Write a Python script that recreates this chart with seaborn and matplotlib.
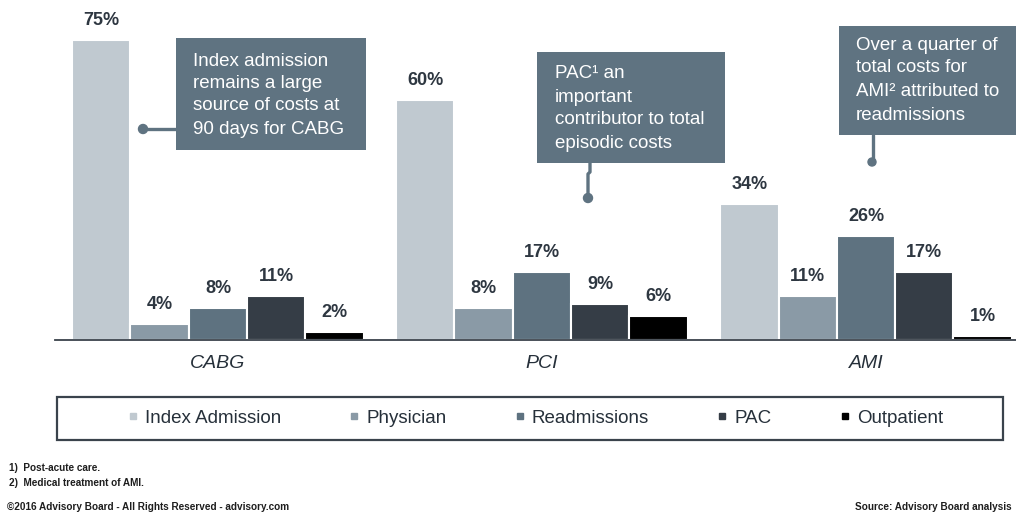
import matplotlib
matplotlib.use("Agg")
import matplotlib.pyplot as plt
from matplotlib.lines import Line2D
from matplotlib.patches import Rectangle, Circle
import seaborn as sns
import pandas as pd

procedures = ["CABG", "PCI", "AMI"]
components = ["Index Admission", "Physician", "Readmissions", "PAC", "Outpatient"]
index_admission = [75, 60, 34]
physician = [4, 8, 11]
readmissions = [8, 17, 26]
pac = [11, 9, 17]
outpatient = [2, 6, 1]
colors = ["#c0c9d0", "#8a9aa6", "#5e7280", "#353d46", "#000000"]

series = [index_admission, physician, readmissions, pac, outpatient]
rows = []
for comp, vals in zip(components, series):
    for p, v in zip(procedures, vals):
        rows.append({"procedure": p, "component": comp, "value": v})
df = pd.DataFrame(rows)

sns.set_theme(style="white")
plt.rcParams["font.family"] = ["Liberation Sans", "DejaVu Sans"]

TXT = "#2e3741"
BOX = "#5f7381"

fig = plt.figure(figsize=(10.16, 5.15), dpi=100)
ax = fig.add_axes([55 / 1016, 175 / 515, 961 / 1016, 340 / 515])
sns.barplot(data=df, x="procedure", y="value", hue="component",
            order=procedures, hue_order=components, palette=colors,
            width=0.9, saturation=1, edgecolor="white", linewidth=1.5,
            legend=False, ax=ax)
ax.set_ylim(0, 85)
ax.set_xlim(-0.503, 2.463)
for cont, vals in zip(ax.containers, series):
    ax.bar_label(cont, labels=[f"{v}%" for v in vals], padding=8,
                 fontsize=13, fontweight="bold", color=TXT)
for s in ["top", "right", "left"]:
    ax.spines[s].set_visible(False)
ax.spines["bottom"].set_color("#3a424b")
ax.spines["bottom"].set_linewidth(1.3)
ax.set_yticks([])
ax.set_xlabel("")
ax.set_ylabel("")
ax.tick_params(axis="x", length=0, pad=11)
ax.set_xticks(range(len(procedures)))
ax.set_xticklabels(procedures, fontsize=14, fontstyle="italic", color="#26303a")

# overlay in pixel coordinates
ov = fig.add_axes([0, 0, 1, 1], zorder=5)
ov.set_xlim(0, 1016)
ov.set_ylim(515, 0)
ov.axis("off")
ov.patch.set_alpha(0)

boxes = [
    ((176, 38, 190, 112), 193, [62, 84, 106, 129],
     ["Index admission", "remains a large", "source of costs at", "90 days for CABG"]),
    ((537, 52, 188, 111), 555, [73, 97, 119, 143],
     ["PAC\u00b9 an", "important", "contributor to total", "episodic costs"]),
    ((839, 26, 190, 109), 856, [45, 68, 92, 115],
     ["Over a quarter of", "total costs for", "AMI\u00b2 attributed to", "readmissions"]),
]
for (x, y, w, h), tx, ys, lines in boxes:
    ov.add_patch(Rectangle((x, y), w, h, facecolor=BOX, edgecolor="none"))
    for ly, t in zip(ys, lines):
        ov.text(tx, ly, t, color="white", fontsize=13.5, va="center", ha="left")

# connectors
ov.plot([176, 143], [129, 129], color=BOX, lw=2.4, solid_capstyle="butt")
ov.add_patch(Circle((143, 129), 4.5, color=BOX))
ov.plot([590, 590, 588, 588], [163, 172, 174, 198], color=BOX, lw=2.4)
ov.add_patch(Circle((588, 198), 4.5, color=BOX))
ov.plot([873, 873], [135, 162], color=BOX, lw=2.4)
ov.add_patch(Circle((872, 162), 4, color=BOX))

# legend frame
ov.add_patch(Rectangle((57, 397), 946, 43, facecolor="none",
                       edgecolor="#3a434c", lw=1.6))
handles = [Line2D([], [], marker="s", linestyle="none", markersize=4.5,
                  markerfacecolor=c, markeredgecolor=c) for c in colors]
fig.legend(handles, components, loc="center", ncol=5,
           bbox_to_anchor=(535 / 1016, 1 - 418 / 515), frameon=False,
           fontsize=13.5, handlelength=0.6, handletextpad=0.35,
           columnspacing=3.6, labelcolor="#26303a")

# footnotes
FN = dict(fontsize=7.2, color="#1e1e1e", va="center", fontweight="bold")
ov.text(9, 468, "1)  Post-acute care.", **FN)
ov.text(9, 483, "2)  Medical treatment of AMI.", **FN)
ov.text(7, 507, "\u00a92016 Advisory Board - All Rights Reserved - advisory.com", **FN)
ov.text(1012, 507, "Source: Advisory Board analysis", ha="right", **FN)

fig.savefig("out.png", dpi=100)
